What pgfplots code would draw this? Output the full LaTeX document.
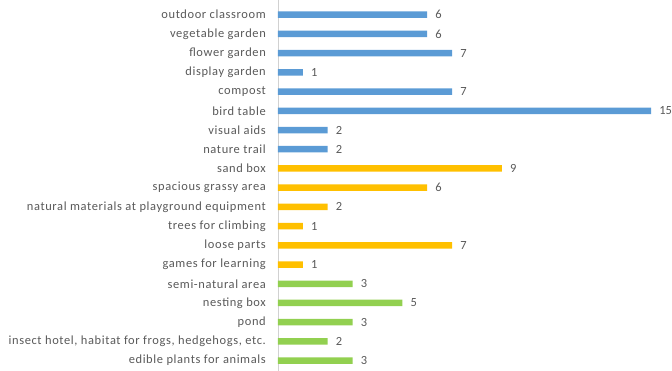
\documentclass[border=0pt]{standalone}
\usepackage{pgfplots}
\pgfplotsset{compat=1.18}
\usepackage{fontspec}
\setmainfont{Carlito}
\newfontfamily\labfont[LetterSpace=5]{Carlito}
\definecolor{cblue}{HTML}{5B9BD5}
\definecolor{corange}{HTML}{FFC000}
\definecolor{cgreen}{HTML}{92D050}
\definecolor{ctext}{HTML}{595959}
\begin{document}
\begin{tikzpicture}
\useasboundingbox (-278bp,0bp) rectangle (394bp,371bp);
\begin{axis}[
  at={(0,0)}, anchor=south west,
  scale only axis,
  width=385.5bp, height=371bp,
  xbar, bar width=6.5bp, bar shift=0pt,
  xmin=0, xmax=15.5,
  ymin=-0.765, ymax=18.54,
  y dir=reverse,
  axis x line=none,
  axis y line*=left,
  y axis line style={draw=black!18, line width=0.8pt},
  ytick={0,...,18},
  yticklabels={outdoor classroom, vegetable garden, flower garden, display garden, compost, bird table, visual aids, nature trail, sand box, spacious grassy area, natural materials at playground equipment, trees for climbing, loose parts, games for learning, semi-natural area, nesting box, pond, {insect hotel, habitat for frogs, hedgehogs, etc.}, edible plants for animals},
  major tick length=0pt,
  /pgf/number format/assume math mode=true,
  yticklabel style={font=\labfont\fontsize{12.5}{13}\selectfont, text=ctext, anchor=east, inner sep=0pt, xshift=-12bp},
  nodes near coords,
  every node near coord/.append style={font=\fontsize{12.5}{13}\selectfont, text=ctext, anchor=west, inner sep=0pt, xshift=8bp},
  clip=false,
]
\addplot[draw=none, fill=cblue] coordinates {(6,0) (6,1) (7,2) (1,3) (7,4) (15,5) (2,6) (2,7)};
\addplot[draw=none, fill=corange] coordinates {(9,8) (6,9) (2,10) (1,11) (7,12) (1,13)};
\addplot[draw=none, fill=cgreen] coordinates {(3,14) (5,15) (3,16) (2,17) (3,18)};
\end{axis}
\end{tikzpicture}
\end{document}
